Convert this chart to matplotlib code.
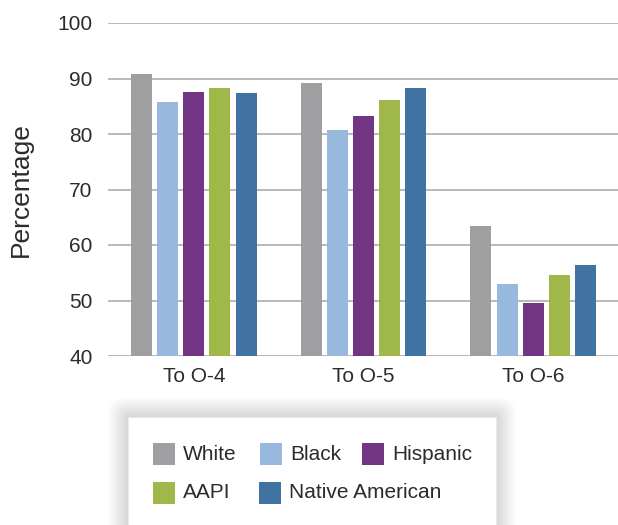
import matplotlib.pyplot as plt
import numpy as np
from matplotlib.patches import FancyBboxPatch, Rectangle

plt.rcParams['font.family'] = ['Liberation Sans', 'DejaVu Sans']

groups = ['To O-4', 'To O-5', 'To O-6']
series = ['White', 'Black', 'Hispanic', 'AAPI', 'Native American']
white = [90.8, 89.2, 63.4]
black = [85.8, 80.7, 53.0]
hispanic = [87.6, 83.2, 49.5]
aapi = [88.3, 86.1, 54.6]
native = [87.4, 88.3, 56.4]
colors = ['#9f9fa1', '#99b8de', '#723584', '#9fb849', '#4173a2']
y_ticks = [40, 50, 60, 70, 80, 90, 100]

W, H = 618, 525
fig = plt.figure(figsize=(W / 100, H / 100), dpi=100)
ax = fig.add_axes([108 / W, (H - 356) / H, 510 / W, 333 / H])

x = np.arange(len(groups))
step, width = 0.154, 0.124
for i, vals in enumerate([white, black, hispanic, aapi, native]):
    ax.bar(x + (i - 2) * step, np.array(vals) - 40, bottom=40, width=width,
           color=colors[i], zorder=3)

ax.set_xlim(-0.506, 2.5)
ax.set_ylim(40, 100)
ax.set_yticks(y_ticks)
ax.set_xticks(x)
ax.set_xticklabels(groups)
ax.yaxis.grid(True, color='#b3b3b3', linewidth=1.3, zorder=0)
ax.set_axisbelow(True)
for s in ax.spines.values():
    s.set_visible(False)
ax.tick_params(axis='both', length=0, labelsize=15, colors='#2b2b2b')
ax.tick_params(axis='y', pad=11)
ax.tick_params(axis='x', pad=8)
ax.set_ylabel('Percentage', fontsize=19, color='#2b2b2b')
ax.yaxis.set_label_coords(-0.147, 0.5)


def fx(px):
    return px / W


def fy(py):
    return 1 - py / H


# legend box with a soft drop shadow
bx0, by0, bx1, by1 = 128, 417, 496, 540
for k in range(20, 0, -1):
    fig.patches.append(FancyBboxPatch(
        (fx(bx0 - k), fy(by1 + k)), fx(bx1 - bx0 + 2 * k), (by1 - by0 + 2 * k) / H,
        boxstyle=f"round,pad=0,rounding_size={k / W}",
        transform=fig.transFigure, facecolor='black', edgecolor='none',
        alpha=0.009, zorder=1))
fig.patches.append(Rectangle((fx(bx0), fy(by1)), fx(bx1 - bx0), (by1 - by0) / H,
                             transform=fig.transFigure, facecolor='white',
                             edgecolor='#ececec', linewidth=0.8, zorder=2))

slots = [(153, 454), (260, 454), (362, 454), (153, 493), (259, 493)]
for (sx, sy), name, c in zip(slots, series, colors):
    fig.patches.append(Rectangle((fx(sx), fy(sy + 11)), fx(22), 22 / H,
                                 transform=fig.transFigure, facecolor=c,
                                 edgecolor='none', zorder=3))
    fig.text(fx(sx + 30), fy(sy), name, fontsize=15, color='#2b2b2b',
             va='center', ha='left', zorder=4)

fig.savefig('out.png', dpi=100)
